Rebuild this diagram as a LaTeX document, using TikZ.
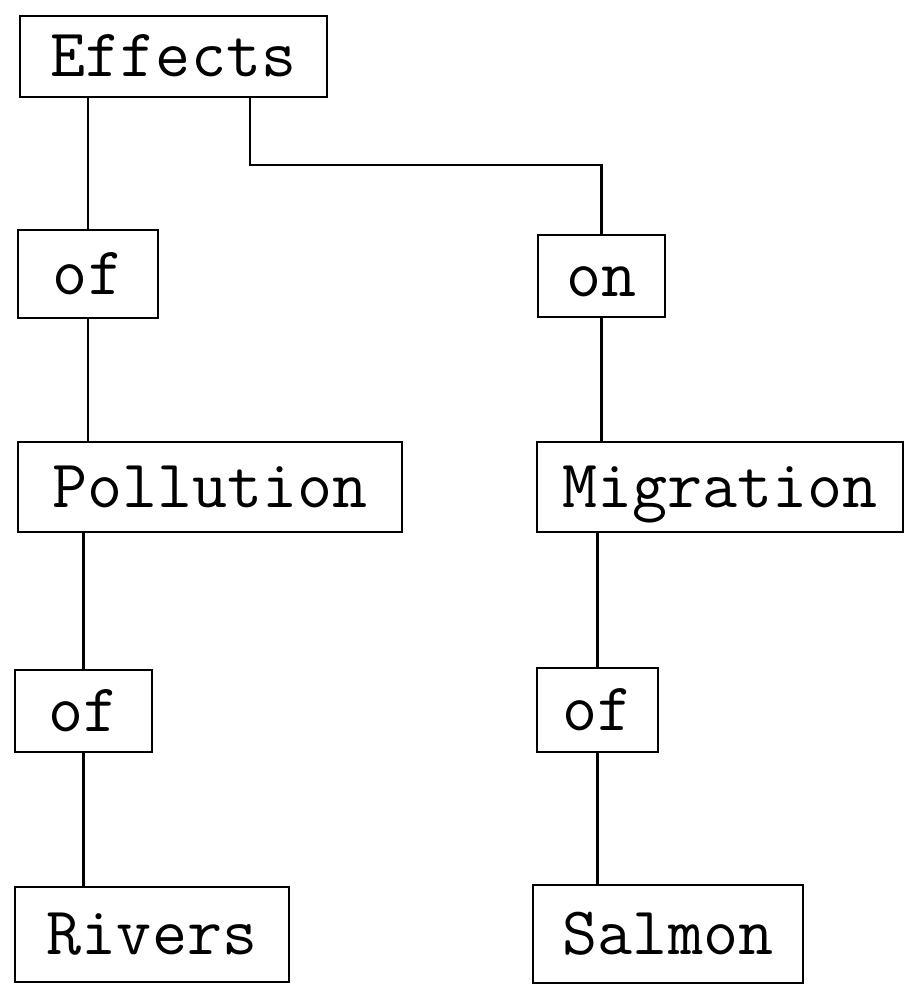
\documentclass[tikz,border=0pt]{standalone}
\usepackage{fontspec}
\tikzset{wordbox/.style={draw, line width=2.2pt, inner sep=0pt, text height=40pt, text depth=0pt, font=\ttfamily\fontsize{68}{68}\selectfont}}

\begin{document}
\begin{tikzpicture}[x=1pt, y=-1pt]
\useasboundingbox (0,0) rectangle (906,985);
% left column
\node (effects) [wordbox, minimum width=307pt, minimum height=81pt] at (173.5,56.5) {Effects};
\node (ofA) [wordbox, minimum width=140pt, minimum height=88pt] at (88,274) {of};
\node (pollution) [wordbox, minimum width=384pt, minimum height=90pt] at (210,487) {Pollution};
\node (ofB) [wordbox, minimum width=137pt, minimum height=82pt] at (83.5,711) {of};
\node (rivers) [wordbox, minimum width=274pt, minimum height=95pt] at (152,934.5) {Rivers};
% right column
\node (on) [wordbox, minimum width=127pt, minimum height=82pt] at (601.5,276) {on};
\node (migration) [wordbox, minimum width=366pt, minimum height=90pt] at (720,487) {Migration};
\node (ofC) [wordbox, minimum width=121pt, minimum height=84pt] at (597.5,710) {of};
\node (salmon) [wordbox, minimum width=270pt, minimum height=98pt] at (668,934) {Salmon};
% connectors
\coordinate (bend) at (250,165);
\draw [line width=2.2pt] (ofA.north) -- (ofA.north |- effects.south);
\draw [line width=2.2pt] (bend |- effects.south) -- (bend) -| (on.north);
\draw [line width=2.2pt] (ofA.south) -- (ofA.south |- pollution.north);
\draw [line width=2.2pt] (ofB.north) -- (ofB.north |- pollution.south);
\draw [line width=2.2pt] (ofB.south) -- (ofB.south |- rivers.north);
\draw [line width=2.2pt] (on.south) -- (on.south |- migration.north);
\draw [line width=2.2pt] (ofC.north) -- (ofC.north |- migration.south);
\draw [line width=2.2pt] (ofC.south) -- (ofC.south |- salmon.north);
\end{tikzpicture}
\end{document}
